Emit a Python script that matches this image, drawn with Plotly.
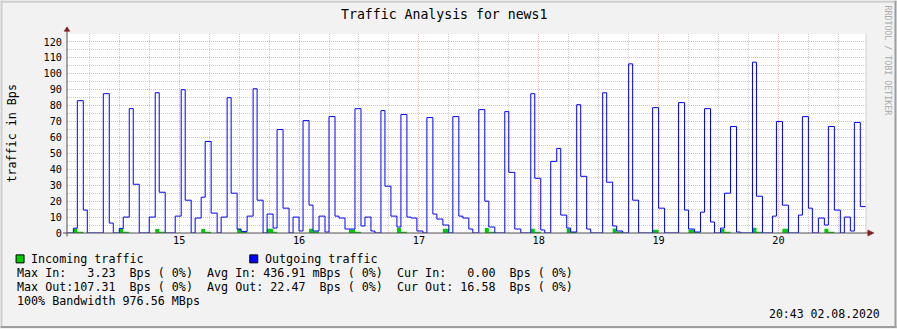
import plotly.graph_objects as go

DATE = "2020-08-02"

# Outgoing traffic (Bps): times where the step value changes, and the value from that time on
out_times = ["14:00", "14:07", "14:09", "14:12", "14:14", "14:22", "14:25", "14:27", "14:30", "14:32",
             "14:35", "14:37", "14:40", "14:45", "14:48", "14:50", "14:53", "14:58", "15:01", "15:03",
             "15:06", "15:08", "15:11", "15:13", "15:16", "15:19", "15:21", "15:24", "15:26", "15:29",
             "15:31", "15:34", "15:37", "15:39", "15:42", "15:44", "15:47", "15:49", "15:52", "15:55",
             "15:57", "16:00", "16:02", "16:05", "16:07", "16:10", "16:13", "16:15", "16:18", "16:20",
             "16:23", "16:28", "16:31", "16:33", "16:36", "16:38", "16:41", "16:43", "16:46", "16:49",
             "16:51", "16:54", "16:56", "16:59", "17:02", "17:04", "17:07", "17:09", "17:12", "17:15",
             "17:17", "17:20", "17:22", "17:25", "17:27", "17:30", "17:33", "17:35", "17:38", "17:43",
             "17:45", "17:48", "17:51", "17:56", "17:58", "18:01", "18:03", "18:06", "18:09", "18:11",
             "18:14", "18:16", "18:19", "18:21", "18:24", "18:26", "18:32", "18:34", "18:37", "18:39",
             "18:42", "18:45", "18:47", "18:50", "18:57", "19:00", "19:03", "19:10", "19:13", "19:15",
             "19:18", "19:21", "19:23", "19:26", "19:28", "19:31", "19:33", "19:36", "19:39", "19:41",
             "19:47", "19:49", "19:52", "19:57", "19:59", "20:02", "20:05", "20:10", "20:12", "20:15",
             "20:17", "20:20", "20:23", "20:25", "20:28", "20:31", "20:33", "20:36", "20:38", "20:41",
             "20:45"]
out_values = [0, 3.0, 83.1, 14.4, 0, 87.5, 6.25, 0, 2.9, 10,
              78.1, 30.6, 0, 10, 88.1, 25.6, 0, 10.6, 90, 20.6,
              0, 9.4, 22.5, 57.5, 12.5, 0, 10, 85, 25, 2.5,
              1, 10.6, 90.6, 20.6, 0, 11.9, 3.1, 65, 15.6, 0,
              10, 1.25, 70.6, 17.5, 1.25, 10.6, 0.6, 73.1, 10.6, 9.4,
              2.5, 78.1, 4.4, 10, 1.25, 0, 76.9, 29.4, 10.6, 3.75,
              74.4, 10, 9.4, 1.25, 0, 72.5, 11.9, 8.75, 5, 0,
              73.1, 10.6, 9.4, 2.5, 0, 77.5, 20, 3.75, 0, 76.25,
              38.1, 2.5, 0, 87.5, 34.4, 1.9, 0, 45, 53.1, 11.25,
              3.1, 0.6, 80.6, 35.6, 2.5, 0, 88.1, 31.9, 4.4, 1.25,
              0, 106.25, 20.6, 0, 78.75, 15.6, 0, 81.9, 14.4, 2.5,
              0.6, 13.1, 78.1, 6.9, 0, 3.1, 25, 66.9, 0.6, 0,
              107.31, 23.1, 0, 10.6, 70, 17.5, 0, 11.25, 73.1, 15.6,
              0, 9.4, 5, 66.9, 14.4, 0, 10, 1.25, 69.4, 16.58,
              16.58]

# Incoming traffic (Bps)
in_times = ["14:00", "14:07", "14:09", "14:12", "14:30", "14:32", "14:35", "14:48", "14:50", "14:53",
            "15:11", "15:13", "15:16", "15:29", "15:31", "15:34", "15:44", "15:47", "15:49", "16:05",
            "16:07", "16:10", "16:25", "16:28", "16:31", "16:49", "16:51", "16:54", "17:12", "17:15",
            "17:33", "17:35", "17:38", "17:56", "17:58", "18:01", "18:14", "18:16", "18:19", "18:37",
            "18:39", "18:42", "18:57", "19:00", "19:15", "19:18", "19:21", "19:31", "19:33", "19:36",
            "19:47", "19:49", "19:52", "20:02", "20:05", "20:23", "20:25", "20:28", "20:45"]
in_values = [0, 2.7, 0.8, 0, 2.9, 0.8, 0, 2.5, 0.8, 0,
             2.5, 0.8, 0, 2.5, 0.8, 0, 2.7, 0.8, 0, 2.7,
             0.9, 0, 2.2, 0.8, 0, 3.2, 0.8, 0, 2.6, 0,
             3.1, 0.8, 0, 2.7, 0.8, 0, 2.7, 0.6, 0, 2.8,
             0.8, 0, 2.1, 0, 2.1, 0.4, 0, 2.5, 0.8, 0,
             3.23, 0.8, 0, 2.6, 0, 2.7, 0.8, 0, 0]

hour_labels = ["15", "16", "17", "18", "19", "20"]
y_tick_values = [0, 10, 20, 30, 40, 50, 60, 70, 80, 90, 100, 110, 120]
view_start, view_end = "14:03:50", "20:43:50"
y_top = 125

title_text = "Traffic Analysis for news1"
unit_text = "traffic in Bps"
watermark_text = "RRDTOOL / TOBI OETIKER"
legend_in = "Incoming traffic"
legend_out = "Outgoing traffic"
stat_lines = [
    "Max In:   3.23  Bps ( 0%)  Avg In: 436.91 mBps ( 0%)  Cur In:   0.00  Bps ( 0%)",
    "Max Out:107.31  Bps ( 0%)  Avg Out: 22.47  Bps ( 0%)  Cur Out: 16.58  Bps ( 0%)",
    "100% Bandwidth 976.56 MBps",
]
stamp_text = "20:43 02.08.2020"

# ---------------------------------------------------------------- styling
W, H = 897, 329
L, R, T, B = 66.5, 866.5, 33.5, 233.5
FONT = "DejaVu Sans Mono"
BACK = "#F2F2F2"
SHADEA = "#CFCFCF"
SHADEB = "#9E9E9E"
GRID = "#CDCDCD"
MGRID = "#EBB3B3"
AXIS = "#505050"
ARROW = "#7F1F1F"
C_IN = "#00CC00"
C_OUT = "#0000FF"


def fx(p):
    return (p - L) / (R - L)


def fy(p):
    return (B - p) / (B - T)


fig = go.Figure()
fig.add_trace(go.Scatter(
    x=[f"{DATE} {t}" for t in in_times], y=in_values, mode="lines",
    line=dict(shape="hv", width=0, color=C_IN), fill="tozeroy", fillcolor=C_IN,
    hoverinfo="skip", name=legend_in))
fig.add_trace(go.Scatter(
    x=[f"{DATE} {t}" for t in out_times], y=out_values, mode="lines",
    line=dict(shape="hv", width=1, color=C_OUT), hoverinfo="skip", name=legend_out))

fig.update_layout(
    width=W, height=H, autosize=False,
    margin=dict(l=L, r=W - R, t=T, b=H - B, pad=0),
    paper_bgcolor=BACK, plot_bgcolor="#FFFFFF", showlegend=False,
    font=dict(family=FONT, color="#000000", size=10),
)
fig.update_xaxes(
    type="date", range=[f"{DATE} {view_start}", f"{DATE} {view_end}"],
    tickmode="array", tickvals=[f"{DATE} {h}:00" for h in hour_labels], ticktext=hour_labels,
    showgrid=True, gridcolor=MGRID, griddash="1px,1px", gridwidth=1,
    minor=dict(tickmode="linear", tick0=f"{DATE} 00:00", dtick=15 * 60 * 1000,
               showgrid=True, gridcolor=GRID, griddash="1px,1px", gridwidth=1),
    showline=False, zeroline=False, ticks="", tickfont=dict(size=10.2, family=FONT),
    fixedrange=True,
)
fig.update_yaxes(
    range=[0, y_top], tickmode="array", tickvals=y_tick_values,
    showgrid=True, gridcolor=MGRID, griddash="1px,1px", gridwidth=1,
    minor=dict(tickmode="linear", tick0=0, dtick=5, showgrid=True, gridcolor=GRID,
               griddash="1px,1px", gridwidth=1),
    showline=False, zeroline=False, ticks="", ticklabelstandoff=4,
    tickfont=dict(size=10.2, family=FONT), fixedrange=True,
)

shapes = []


def rect_px(x0, y0, x1, y1, fill, line=None):
    shapes.append(dict(type="rect", xref="paper", yref="paper", layer="above",
                       x0=fx(x0), x1=fx(x1), y0=fy(y0), y1=fy(y1), fillcolor=fill,
                       line=dict(width=0) if line is None else dict(color=line, width=1)))


def line_px(x0, y0, x1, y1, color, width=1):
    shapes.append(dict(type="line", xref="paper", yref="paper", layer="above",
                       x0=fx(x0), x1=fx(x1), y0=fy(y0), y1=fy(y1),
                       line=dict(color=color, width=width)))


def poly_px(points, color):
    d = "M " + " L ".join(f"{fx(a):.5f},{fy(b):.5f}" for a, b in points) + " Z"
    shapes.append(dict(type="path", xref="paper", yref="paper", layer="above", path=d,
                       fillcolor=color, line=dict(color=color, width=0.5)))


# frame shading
rect_px(0, 0, W, 2, SHADEA)
rect_px(0, 0, 2, H, SHADEA)
rect_px(0, H - 2, W, H, SHADEB)
rect_px(W - 2, 0, W, H, SHADEB)
# right edge of the grid
line_px(R, T, R, B, "#D2D2D2")
# axes with arrows
line_px(62.5, B, 869, B, AXIS)
line_px(L, 237, L, 30, AXIS)
poly_px([(868.3, 230.4), (874.6, 233.5), (868.3, 236.6)], ARROW)
poly_px([(63.6, 30.8), (66.5, 26.3), (69.4, 30.8)], ARROW)
# legend swatches
rect_px(15.5, 255.5, 23.5, 263.5, C_IN, "#000000")
rect_px(249.5, 255.5, 257.5, 263.5, C_OUT, "#000000")

ann = []


def text_px(x, y, s, size, xanchor="left", angle=0, color="#000000"):
    ann.append(dict(xref="paper", yref="paper", x=fx(x), y=fy(y), text=s.replace(" ", "\u00a0"),
                    showarrow=False, xanchor=xanchor, yanchor="middle", textangle=angle,
                    font=dict(family=FONT, size=size, color=color), borderpad=0))


text_px(443.5, 14, title_text, 13.2, xanchor="center")
text_px(10.5, 133.5, unit_text, 11.7, xanchor="center", angle=-90)
text_px(888.5, 60, watermark_text, 8.3, xanchor="center", angle=90, color="#ABABAB")
text_px(29.5, 259.5, legend_in, 11.7)
text_px(263.5, 259.5, legend_out, 11.7)
for i, s in enumerate(stat_lines):
    text_px(15.5, 273.5 + 14 * i, s, 11.7)
text_px(881.5, 315, stamp_text, 11.5, xanchor="right")

fig.update_layout(shapes=shapes, annotations=ann)
fig.write_html("out.html")
